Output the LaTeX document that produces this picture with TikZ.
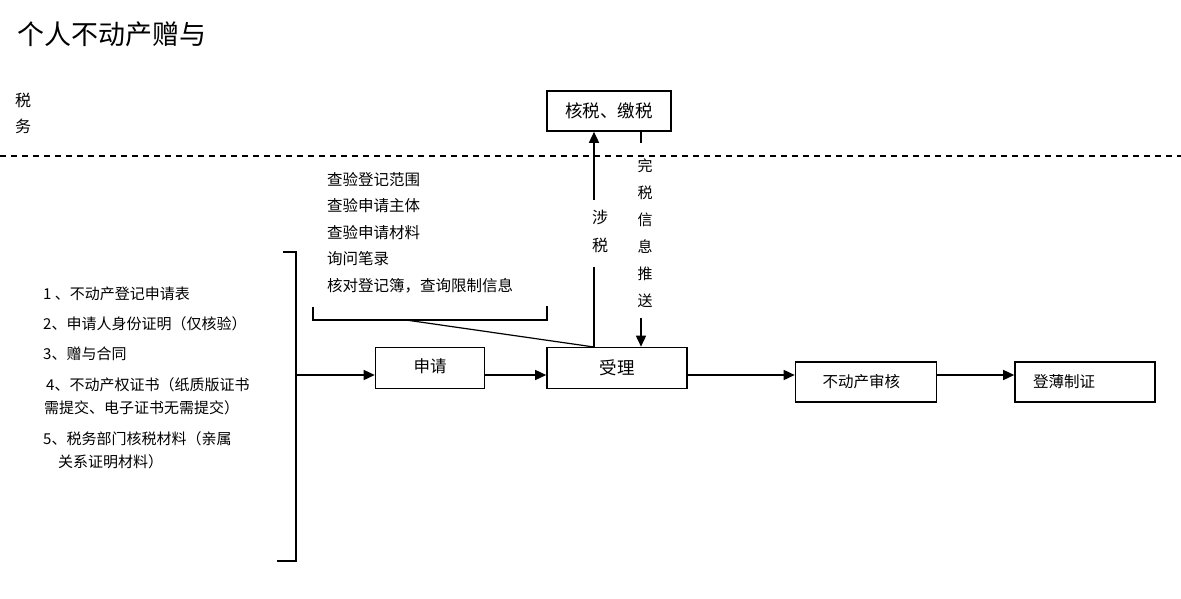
\documentclass[tikz,border=0pt]{standalone}
\usepackage{fontspec}
\setmainfont{Noto Sans CJK SC}
\usetikzlibrary{arrows.meta}
\tikzset{
  box/.style={draw, line width=1.6pt, minimum width=#1, minimum height=40, inner sep=0pt},
  box/.default=124,
  txt/.style={inner sep=0pt, font=\fontsize{15.5}{18}\selectfont},
  ln/.style={line width=1.4pt},
  arr/.style={line width=1.5pt, -{Triangle[length=11pt,width=10pt]}},
}
\begin{document}
\begin{tikzpicture}[x=1pt,y=-1pt]
\useasboundingbox (0,0) rectangle (1181,598);
% title
\node[inner sep=0pt, anchor=west, font=\fontsize{27}{30}\selectfont] (title) at (17,34) {个人不动产赠与};
\node[txt, align=center, font=\fontsize{16}{26}\selectfont] (sw) at (23,113) {税\\务};
% dashed separator
\coordinate (dl) at (0,156);
\coordinate (dr) at (1181,156);
\draw[line width=1.1pt, dash pattern=on 6pt off 5pt] (dl) -- (dr);
% boxes
\node[box=124, font=\fontsize{17.5}{20}\selectfont] (hs) at (609,111) {核税、缴税};
\node[box=109, minimum height=41, font=\fontsize{16.5}{20}\selectfont] (sq) at (430,368) {\raisebox{5pt}{申请}};
\node[box=140, minimum height=41, font=\fontsize{17.5}{20}\selectfont] (sl) at (617,368) {受理};
\node[box=141, text width=87, inner xsep=27, align=left, font=\fontsize{15.5}{18}\selectfont] (bdc) at (866,382) {不动产审核};
\node[box=140, text width=104, inner xsep=18, align=left, font=\fontsize{15.5}{18}\selectfont] (dbz) at (1085,382) {登薄制证};
% check list
\node[txt, anchor=west] (c1) at (327,180) {查验登记范围};
\node[txt, anchor=west] (c2) at (327,206) {查验申请主体};
\node[txt, anchor=west] (c3) at (327,233) {查验申请材料};
\node[txt, anchor=west] (c4) at (327,259) {询问笔录};
\node[txt, anchor=west] (c5) at (327,286) {核对登记簿，查询限制信息};
% bracket under check list
\coordinate (b1) at (313,307);
\coordinate (b2) at (313,320);
\coordinate (b3) at (547,320);
\coordinate (b4) at (547,306);
\coordinate (bm) at (406,320);
\draw[ln] (b1) -- (b2) -- (b3) -- (b4);
\coordinate (slt) at (594,347);
\draw[line width=1.2pt] (bm) -- (slt);
% left materials list
\node[txt, anchor=west, font=\fontsize{15}{18}\selectfont] (l1) at (43,294) {1 、不动产登记申请表};
\node[txt, anchor=west, font=\fontsize{15}{18}\selectfont] (l2) at (43,324) {2、申请人身份证明（仅核验）};
\node[txt, anchor=west, font=\fontsize{15}{18}\selectfont] (l3) at (43,354) {3、赠与合同};
\node[txt, anchor=west, font=\fontsize{15}{18}\selectfont] (l4) at (46,385) {4、不动产权证书（纸质版证书};
\node[txt, anchor=west, font=\fontsize{15}{18}\selectfont] (l5) at (44,408) {需提交、电子证书无需提交）};
\node[txt, anchor=west, font=\fontsize{15}{18}\selectfont] (l6) at (43,439) {5、税务部门核税材料（亲属};
\node[txt, anchor=west, font=\fontsize{15}{18}\selectfont] (l7) at (58,462) {关系证明材料）};
% big bracket
\coordinate (k1) at (283,252);
\coordinate (k2) at (296,252);
\coordinate (k3) at (296,561);
\coordinate (k4) at (277,561);
\coordinate (km) at (296,375);
\draw[ln] (k1) -- (k2) -- (k3) -- (k4);
% main flow
\draw[arr] (km) -- (sq.west |- km);
\draw[arr] (sq.east |- km) -- (sl.west |- km);
\draw[arr] (sl.east |- km) -- (bdc.west |- km);
\draw[arr] (bdc.east |- km) -- (dbz.west |- km);
% tax-related arrow
\node[txt, align=center, font=\fontsize{16}{28}\selectfont] (ss) at (600,231) {涉\\税};
\coordinate (s1) at (594,347);
\coordinate (s2) at (594,267);
\coordinate (s3) at (594,200);
\draw[arr, -] (s1) -- (s2);
\draw[arr] (s3) -- (hs.south -| s3);
% tax completion push
\node[txt, align=center, font=\fontsize{15}{27}\selectfont] (ws) at (645,233) {完\\税\\信\\息\\推\\送};
\coordinate (w1) at (641,143);
\coordinate (w2) at (641,318);
\draw[line width=1.2pt] (hs.south -| w1) -- (w1);
\draw[arr] (w2) -- (sl.north -| w2);
\end{tikzpicture}
\end{document}
